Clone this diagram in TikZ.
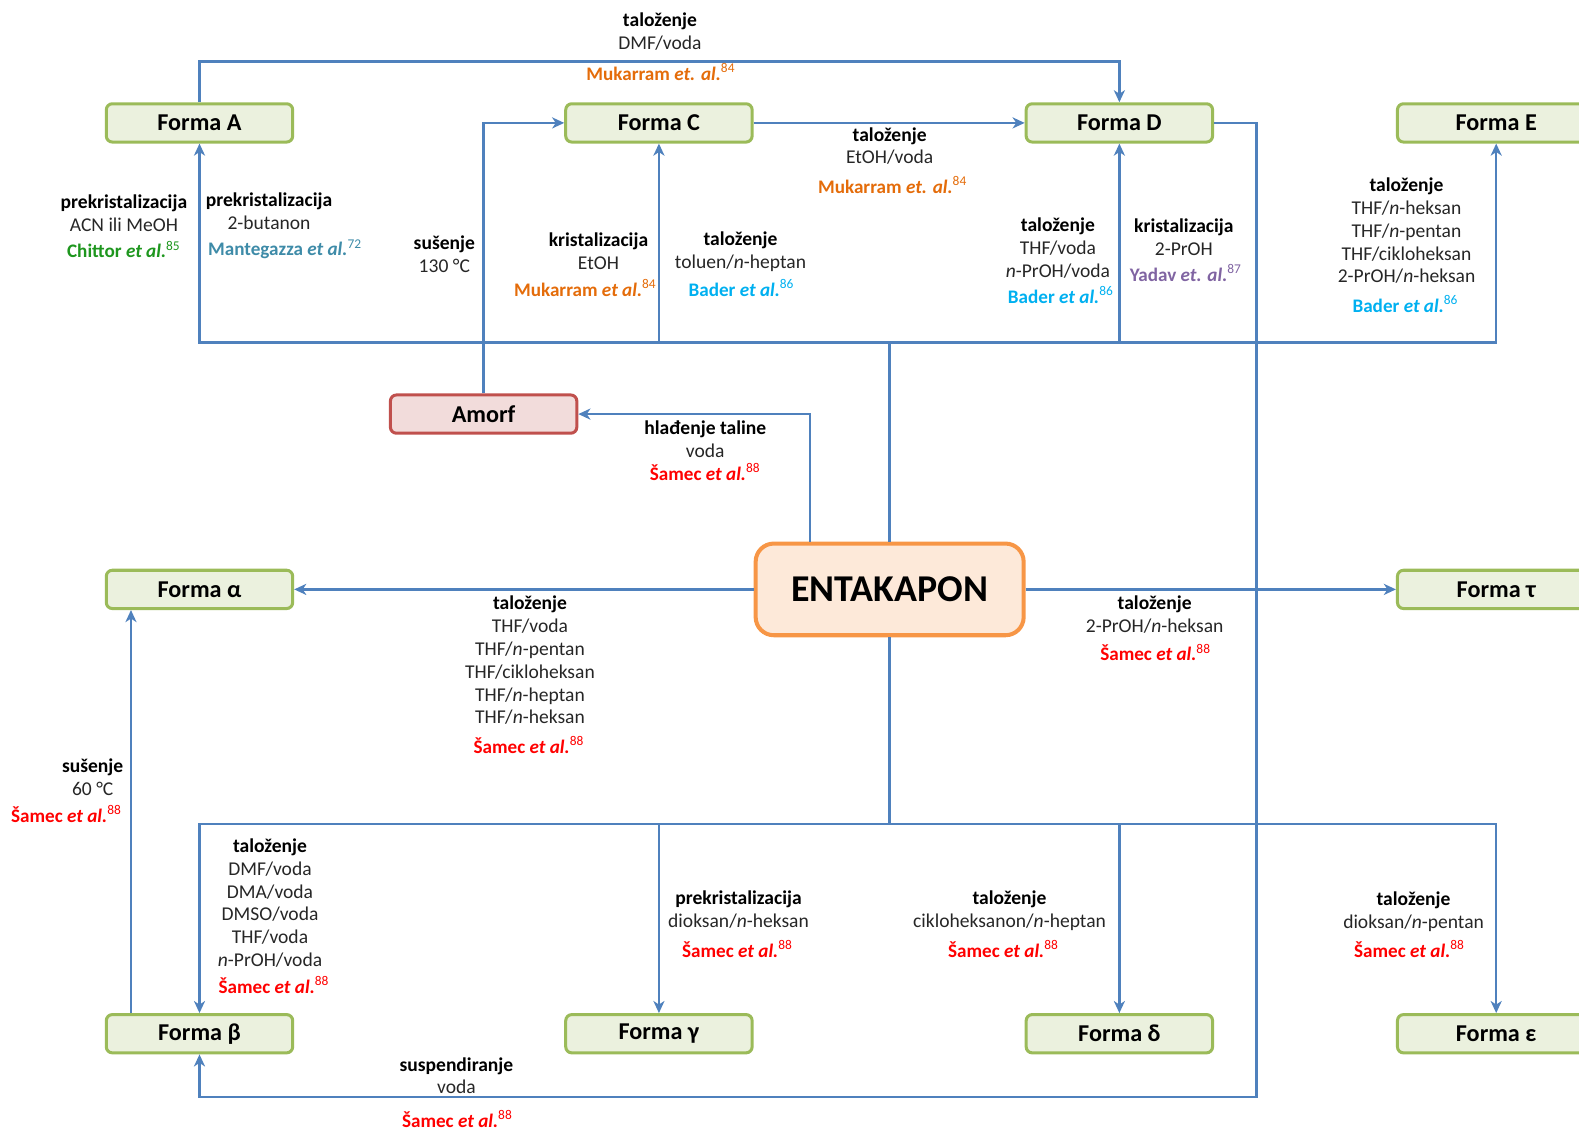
\documentclass[tikz,border=0pt]{standalone}
\usepackage{fontspec}
\setmainfont{Carlito}
\usetikzlibrary{arrows.meta}
\definecolor{lineblue}{HTML}{4F81BD}
\definecolor{fgreen}{HTML}{9BBB59}
\definecolor{fgreenfill}{HTML}{EBF1DE}
\definecolor{amborder}{HTML}{C0504D}
\definecolor{amfill}{HTML}{F2DCDB}
\definecolor{entborder}{HTML}{F79646}
\definecolor{entfill}{HTML}{FDE9D9}
\definecolor{txtgray}{HTML}{262626}
\definecolor{corange}{HTML}{E46C0A}
\definecolor{cgreen}{HTML}{1E961E}
\definecolor{cteal}{HTML}{3E8BA8}
\definecolor{ccyan}{HTML}{00B0F0}
\definecolor{cpurple}{HTML}{8064A2}
\definecolor{cred}{HTML}{FF0000}
\newcommand\citx[3]{#1 \textit{#2}\textsuperscript{\mdseries #3}}
\begin{document}
\begin{tikzpicture}[x=0.5pt,y=-0.5pt,
  formbox/.style={draw=fgreen, fill=fgreenfill, line width=1.5pt, rounded corners=3pt,
    minimum width=92.5pt, minimum height=19pt, inner sep=0pt,
    font=\fontsize{12}{14}\selectfont\bfseries},
  formboxr/.style={formbox, minimum width=98pt},
  amorfbox/.style={formbox, draw=amborder, fill=amfill},
  entbox/.style={draw=entborder, fill=entfill, line width=2pt, rounded corners=9pt,
    minimum width=133pt, minimum height=45.5pt, inner sep=0pt,
    font=\fontsize{18.8}{20}\selectfont\bfseries},
  conn/.style={draw=lineblue, line width=1.25pt, -{Stealth[length=6pt,width=5.5pt,inset=1.8pt]}},
  lab/.style={align=center, anchor=base, inner sep=0pt, text=txtgray,
    font=\fontsize{9.7}{11.35}\selectfont},
  cit/.style={anchor=base, inner sep=0pt, font=\fontsize{9.5}{11.35}\selectfont\bfseries}
]
\useasboundingbox (0,0) rectangle (1567.2,1121.6);
\clip (0,0) rectangle (1579,1130);

% boxes
\node[formbox] (A) at (198,122) {Forma A};
\node[formbox] (C) at (654,122) {Forma C};
\node[formbox] (D) at (1111,122) {Forma D};
\node[formboxr] (E) at (1485,122) {Forma E};
\node[amorfbox] (AM) at (480,411) {Amorf};
\node[entbox] (ENT) at (883,585) {ENTAKAPON};
\node[formbox] (Al) at (198,585) {Forma α};
\node[formboxr] (Tau) at (1485,585) {Forma τ};
\node[formbox] (B) at (198,1026) {Forma β};
\node[formbox] (G) at (654,1026) {Forma γ};
\node[formbox] (Dl) at (1111,1026) {Forma δ};
\node[formboxr] (Ep) at (1485,1026) {Forma ε};

% helper coordinates
\coordinate (yTop) at (0,61);
\coordinate (yUp) at (0,340);
\coordinate (yLow) at (0,818);
\coordinate (yBot) at (0,1089);
\coordinate (xR) at (1247,0);
\coordinate (xAm) at (804,0);
\coordinate (xAl) at (130,0);

% connectors
\draw[conn] (A.north) -- (A.north |- yTop) -| (D.north);
\draw[conn] (ENT.north) -- (ENT.north |- yUp) -| (A.south);
\draw[conn] (ENT.north) -- (ENT.north |- yUp) -| (C.south);
\draw[conn] (ENT.north) -- (ENT.north |- yUp) -| (D.south);
\draw[conn] (ENT.north) -- (ENT.north |- yUp) -| (E.south);
\draw[conn] (AM.north) |- (C.west);
\draw[conn] (C.east) -- (D.west);
\draw[conn] (D.east) -- (D.east -| xR) -- (xR |- yBot) -| (B.south);
\draw[conn] (ENT.north -| xAm) |- (AM.east);
\draw[conn] (ENT.west) -- (Al.east);
\draw[conn] (ENT.east) -- (Tau.west);
\draw[conn] (ENT.south) -- (ENT.south |- yLow) -| (B.north);
\draw[conn] (ENT.south) -- (ENT.south |- yLow) -| (G.north);
\draw[conn] (ENT.south) -- (ENT.south |- yLow) -| (Dl.north);
\draw[conn] (ENT.south) -- (ENT.south |- yLow) -| (Ep.north);
\draw[conn] (B.north -| xAl) -- (Al.south -| xAl);

% labels (anchor = baseline of the last line)
\node[lab] (t1) at (655,48.7) {\textbf{\color{black}taloženje}\\DMF/voda};
\node[cit, text=corange] (c1) at (656,80) {\citx{Mukarram}{et. al.}{84}};

\node[lab] (t2) at (883,162.7) {\textbf{\color{black}taloženje}\\EtOH/voda};
\node[cit, text=corange] (c2) at (886,192) {\citx{Mukarram}{et. al.}{84}};

\node[lab] (t3) at (123,229.7) {\textbf{\color{black}prekristalizacija}\\ACN ili MeOH};
\node[cit, text=cgreen] (c3) at (123,256) {\citx{Chittor}{et al.}{85}};

\node[lab] (t4) at (267,227.7) {\textbf{\color{black}prekristalizacija}\\2-butanon};
\node[cit, text=cteal] (c4) at (283,254) {\citx{Mantegazza}{et al.}{72}};

\node[lab] (t5) at (441,270.7) {\textbf{\color{black}sušenje}\\130 °C};

\node[lab] (t6) at (594,267.7) {\textbf{\color{black}kristalizacija}\\EtOH};
\node[cit, text=corange] (c6) at (581,294) {\citx{Mukarram}{et al.}{84}};

\node[lab] (t7) at (735,266.7) {\textbf{\color{black}taloženje}\\toluen/\textit{n}-heptan};
\node[cit, text=ccyan] (c7) at (736,294) {\citx{Bader}{et al.}{86}};

\node[lab] (t8) at (1050,275.4) {\textbf{\color{black}taloženje}\\THF/voda\\\textit{n}-PrOH/voda};
\node[cit, text=ccyan] (c8) at (1053,301) {\citx{Bader}{et al.}{86}};

\node[lab] (t9) at (1175,253.7) {\textbf{\color{black}kristalizacija}\\2-PrOH};
\node[cit, text=cpurple] (c9) at (1177,279) {\citx{Yadav}{et. al.}{87}};

\node[lab] (t10) at (1396,280.8) {\textbf{\color{black}taloženje}\\THF/\textit{n}-heksan\\THF/\textit{n}-pentan\\THF/cikloheksan\\2-PrOH/\textit{n}-heksan};
\node[cit, text=ccyan] (c10) at (1395,310) {\citx{Bader}{et al.}{86}};

\node[lab] (t11) at (700,453.7) {\textbf{\color{black}hlađenje taline}\\voda};
\node[cit, text=cred] (c11) at (700,477) {\citx{Šamec}{et al.}{88}};

\node[lab] (t12) at (526,718.5) {\textbf{\color{black}taloženje}\\THF/voda\\THF/\textit{n}-pentan\\THF/cikloheksan\\THF/\textit{n}-heptan\\THF/\textit{n}-heksan};
\node[cit, text=cred] (c12) at (525,748) {\citx{Šamec}{et al.}{88}};

\node[lab] (t13) at (1146,627.7) {\textbf{\color{black}taloženje}\\2-PrOH/\textit{n}-heksan};
\node[cit, text=cred] (c13) at (1147,656) {\citx{Šamec}{et al.}{88}};

\node[lab] (t14) at (92,789.7) {\textbf{\color{black}sušenje}\\60 °C};
\node[cit, text=cred] (c14) at (66,816) {\citx{Šamec}{et al.}{88}};

\node[lab] (t15) at (268,959.5) {\textbf{\color{black}taloženje}\\DMF/voda\\DMA/voda\\DMSO/voda\\THF/voda\\\textit{n}-PrOH/voda};
\node[cit, text=cred] (c15) at (272,986) {\citx{Šamec}{et al.}{88}};

\node[lab] (t16) at (733,920.7) {\textbf{\color{black}prekristalizacija}\\dioksan/\textit{n}-heksan};
\node[cit, text=cred] (c16) at (732,950) {\citx{Šamec}{et al.}{88}};

\node[lab] (t17) at (1002,920.7) {\textbf{\color{black}taloženje}\\cikloheksanon/\textit{n}-heptan};
\node[cit, text=cred] (c17) at (996,950) {\citx{Šamec}{et al.}{88}};

\node[lab] (t18) at (1403,921.7) {\textbf{\color{black}taloženje}\\dioksan/\textit{n}-pentan};
\node[cit, text=cred] (c18) at (1399,950) {\citx{Šamec}{et al.}{88}};

\node[lab] (t19) at (453,1085.7) {\textbf{\color{black}suspendiranje}\\voda};
\node[cit, text=cred] (c19) at (454,1119) {\citx{Šamec}{et al.}{88}};
\end{tikzpicture}
\end{document}
